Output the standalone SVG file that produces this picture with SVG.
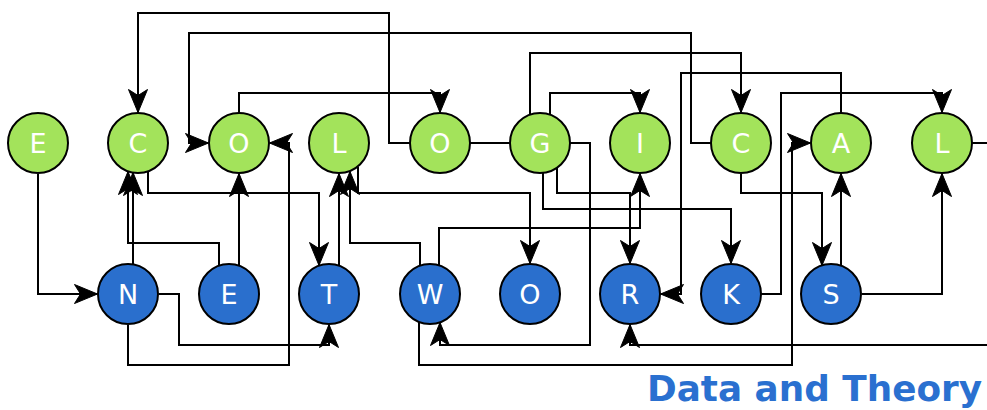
<svg xmlns="http://www.w3.org/2000/svg" width="987" height="410" viewBox="0 0 987 410">
  <style>
    .edge { fill: none; stroke: #000; stroke-width: 2; marker-end: url(#arrow); }
    .top circle { fill: #a3e35b; stroke: #000; stroke-width: 2; }
    .bot circle { fill: #2a6fcd; stroke: #000; stroke-width: 2; }
    .node text { fill: #fff; font-family: "DejaVu Sans", Verdana, sans-serif; font-size: 27px; text-anchor: middle; }
    .title { fill: #2a70d0; font-family: "DejaVu Sans", Verdana, sans-serif; font-weight: bold; font-size: 35px; }
    .head { fill: #000; stroke: #000; stroke-width: 1; stroke-linejoin: miter; }
  </style>
  <defs>
    <!-- solid dart-shaped arrowhead, tip at the path end -->
    <marker id="arrow" markerUnits="userSpaceOnUse" markerWidth="28" markerHeight="26" viewBox="-26 -13 28 26" refX="-0.5" refY="0" orient="auto">
      <path class="head" d="M0,0 L-23,-9.5 L-17,0 L-23,9.5 Z"/>
    </marker>
  </defs>

  <g id="connectors">
    <!-- G -> C (first) -->
    <path class="edge" d="M510,143 H389 V13 H138 V112"/>
    <!-- C (second) -> O (first) -->
    <path class="edge" d="M711,143 H691 V33 H189 V143 H208"/>
    <!-- G -> C (second) -->
    <path class="edge" d="M530,115 V53 H741 V112"/>
    <!-- A -> R -->
    <path class="edge" d="M841,113 V73 H681 V294 H661"/>
    <!-- O (first) -> O (second) -->
    <path class="edge" d="M239,113 V93 H440 V112"/>
    <!-- G -> I -->
    <path class="edge" d="M550,115 V93 H640 V112"/>
    <!-- K -> L (second) -->
    <path class="edge" d="M761,294 H781 V93 H942 V112"/>
    <!-- W -> A -->
    <path class="edge" d="M419,322 V365 H792 V143 H810"/>
    <!-- G -> W -->
    <path class="edge" d="M570,143 H590 V345 H440 V323"/>
    <!-- L (second) -> R, routed round the right edge -->
    <path class="edge" d="M972,143 H1000 V345 H630 V325"/>
    <!-- E (top) -> N -->
    <path class="edge" d="M38,174 V294 H97"/>
    <!-- E (bottom) -> C (first) -->
    <path class="edge" d="M219,266 V243 H128 V172"/>
    <!-- N -> C (first) -->
    <path class="edge" d="M133,265 V173"/>
    <!-- E (bottom) -> O (first) -->
    <path class="edge" d="M239,266 V174"/>
    <!-- C (first) -> T -->
    <path class="edge" d="M148,171 V193 H319 V265"/>
    <!-- N -> O (first) -->
    <path class="edge" d="M128,325 V365 H289 V143 H270"/>
    <!-- N -> T -->
    <path class="edge" d="M159,294 H179 V345 H329 V325"/>
    <!-- T -> L (first) -->
    <path class="edge" d="M339,266 V174"/>
    <!-- W -> L (first) -->
    <path class="edge" d="M420,266 V243 H350 V172"/>
    <!-- L (first) -> O (bottom) -->
    <path class="edge" d="M358,167 V193 H530 V263"/>
    <!-- G -> K -->
    <path class="edge" d="M543,173 V209 H731 V263"/>
    <!-- G -> R -->
    <path class="edge" d="M557,168 V193 H630 V263"/>
    <!-- W -> I -->
    <path class="edge" d="M439,266 V228 H640 V174"/>
    <!-- C (second) -> S -->
    <path class="edge" d="M741,174 V193 H822 V265"/>
    <!-- S -> A -->
    <path class="edge" d="M841,266 V174"/>
    <!-- S -> L (second) -->
    <path class="edge" d="M862,294 H942 V174"/>
  </g>

  <!-- top row: ECOLOGICAL -->
  <g id="n-E1" class="node top"><circle cx="38" cy="143" r="30"/><text x="38" y="153">E</text></g>
  <g id="n-C1" class="node top"><circle cx="138" cy="143" r="30"/><text x="138" y="153">C</text></g>
  <g id="n-O1" class="node top"><circle cx="239" cy="143" r="30"/><text x="239" y="153">O</text></g>
  <g id="n-L1" class="node top"><circle cx="339" cy="143" r="30"/><text x="339" y="153">L</text></g>
  <g id="n-O2" class="node top"><circle cx="440" cy="143" r="30"/><text x="440" y="153">O</text></g>
  <g id="n-G" class="node top"><circle cx="540" cy="143" r="30"/><text x="540" y="153">G</text></g>
  <g id="n-I" class="node top"><circle cx="640" cy="143" r="30"/><text x="640" y="153">I</text></g>
  <g id="n-C2" class="node top"><circle cx="741" cy="143" r="30"/><text x="741" y="153">C</text></g>
  <g id="n-A" class="node top"><circle cx="841" cy="143" r="30"/><text x="841" y="153">A</text></g>
  <g id="n-L2" class="node top"><circle cx="942" cy="143" r="30"/><text x="942" y="153">L</text></g>

  <!-- bottom row: NETWORKS -->
  <g id="n-N" class="node bot"><circle cx="128" cy="294" r="30"/><text x="128" y="304">N</text></g>
  <g id="n-E2" class="node bot"><circle cx="229" cy="294" r="30"/><text x="229" y="304">E</text></g>
  <g id="n-T" class="node bot"><circle cx="329" cy="294" r="30"/><text x="329" y="304">T</text></g>
  <g id="n-W" class="node bot"><circle cx="430" cy="294" r="30"/><text x="430" y="304">W</text></g>
  <g id="n-O3" class="node bot"><circle cx="530" cy="294" r="30"/><text x="530" y="304">O</text></g>
  <g id="n-R" class="node bot"><circle cx="630" cy="294" r="30"/><text x="630" y="304">R</text></g>
  <g id="n-K" class="node bot"><circle cx="731" cy="294" r="30"/><text x="731" y="304">K</text></g>
  <g id="n-S" class="node bot"><circle cx="831" cy="294" r="30"/><text x="831" y="304">S</text></g>

  <text class="title" x="647" y="401" textLength="335" lengthAdjust="spacingAndGlyphs">Data and Theory</text>
</svg>
